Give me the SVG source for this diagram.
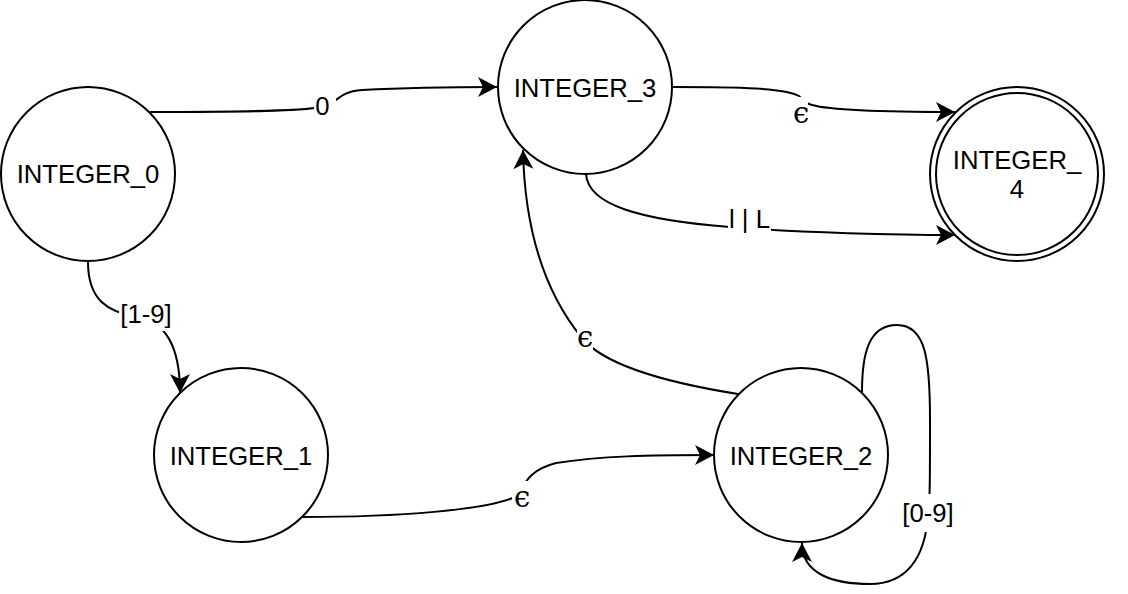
<svg xmlns="http://www.w3.org/2000/svg" width="1128" height="594" viewBox="0 0 1128 594">
<style>
.node{fill:#fff;stroke:#000;stroke-width:2}
.edge{fill:none;stroke:#000;stroke-width:2}
.t{font-family:"Liberation Sans",Arial,Helvetica,sans-serif;font-size:25.7px;fill:#000;text-anchor:middle}
.e{font-family:"DejaVu Serif",serif;font-size:29px;fill:#000;text-anchor:middle}
.lb{fill:#fff;stroke:none}
</style>
<defs>
<marker id="arr" markerUnits="userSpaceOnUse" markerWidth="24" markerHeight="24" viewBox="-21 -12 24 24" refX="0" refY="0" orient="auto">
<path d="M0,0 L-19,-10 L-14,0 L-19,10 Z" fill="#000"/>
</marker>
</defs>
<rect width="1128" height="594" fill="#fff"/>
<g id="connectors">
<path class="edge" marker-end="url(#arr)" d="M150,112 C250,112 300,111 322,107 C338,104 336,92 362,90 C400,88 450,87 497,87"/>
<path class="edge" marker-end="url(#arr)" d="M672,87 C740,87 785,88 799,96 C803,100 805,103 812,105 C830,110 870,112 955,112"/>
<path class="edge" marker-end="url(#arr)" d="M586,174 C588,205 640,220 730,227 C800,233 900,235 955,235"/>
<path class="edge" marker-end="url(#arr)" d="M88,262 C88,300 108,312 135,316 C165,321 180,345 180,393"/>
<path class="edge" marker-end="url(#arr)" d="M303,517 C400,517 485,510 515,497 C525,490 522,472 556,463 C600,456 650,455 714,455"/>
<path class="edge" marker-end="url(#arr)" d="M738,394 C650,380 600,360 582,338 C555,305 525,250 523,150"/>
<path class="edge" marker-end="url(#arr)" d="M862,392 C862,355 868,325 897,325 C926,325 930,360 930,420 C930,480 930,500 928,515 C925,560 905,584 870,584 C835,584 802,575 802,543"/>
<rect class="lb" x="314" y="92" width="22" height="29"/>
<text class="t" x="322.5" y="115">0</text>
<rect class="lb" x="796" y="97" width="12" height="29"/>
<text class="e" x="801" y="123">ϵ</text>
<rect class="lb" x="728" y="203" width="43" height="31"/>
<text class="t" x="749.5" y="228">l | L</text>
<rect class="lb" x="119" y="300" width="52" height="31"/>
<text class="t" x="146" y="322.5">[1-9]</text>
<rect class="lb" x="512" y="481" width="17" height="30"/>
<text class="e" x="522" y="507">ϵ</text>
<rect class="lb" x="577" y="329" width="16" height="21"/>
<text class="e" x="585" y="347">ϵ</text>
<rect class="lb" x="902" y="494" width="52" height="38"/>
<text class="t" x="928" y="521.5">[0-9]</text>
</g>
<g id="INTEGER_0">
<circle class="node" cx="88" cy="174" r="87"/>
<text class="t" x="88" y="183">INTEGER_0</text>
</g>
<g id="INTEGER_3">
<circle class="node" cx="585" cy="87" r="87"/>
<text class="t" x="585" y="97">INTEGER_3</text>
</g>
<g id="INTEGER_4">
<circle class="node" cx="1017" cy="174" r="87"/>
<circle class="node" cx="1017" cy="174" r="81"/>
<text class="t" x="1017" y="169">INTEGER_</text>
<text class="t" x="1017" y="198">4</text>
</g>
<g id="INTEGER_1">
<circle class="node" cx="241" cy="455" r="87"/>
<text class="t" x="241" y="465">INTEGER_1</text>
</g>
<g id="INTEGER_2">
<circle class="node" cx="801" cy="455" r="87"/>
<text class="t" x="801" y="465">INTEGER_2</text>
</g>
</svg>
